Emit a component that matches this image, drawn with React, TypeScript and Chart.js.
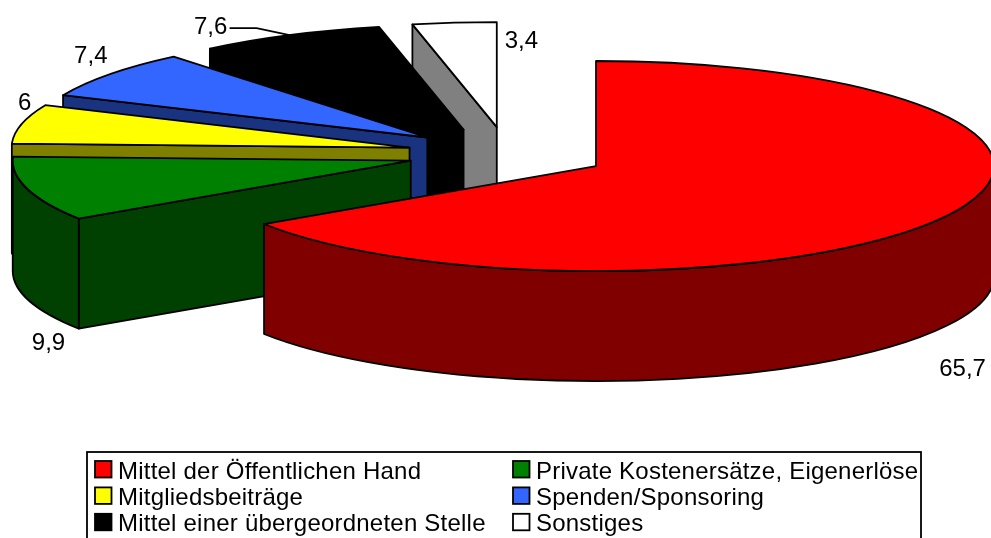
import React, { useEffect, useRef } from "react";
import { Chart, registerables } from "chart.js";

Chart.register(...registerables);

const categories = [
  "Mittel der Öffentlichen Hand",
  "Private Kostenersätze, Eigenerlöse",
  "Mitgliedsbeiträge",
  "Spenden/Sponsoring",
  "Mittel einer übergeordneten Stelle",
  "Sonstiges",
];
const shares = [65.7, 9.9, 6, 7.4, 7.6, 3.4];
const sliceColors = ["#FF0000", "#008000", "#FFFF00", "#3366FF", "#000000", "#FFFFFF"];
const wallColors = ["#800000", "#004000", "#808000", "#1A3380", "#000000", "#808080"];

const RADIUS = 398;
const SQUASH = 0.264;
const DEPTH = 110;
const EXPLODE = 100.5;
const LINE = 1.8;
const FONT = '24px "Liberation Sans", Arial, sans-serif';
const labelOffsets = [
  [16, 154],
  [21, 154],
  [3, -21],
  [-19, -18],
  [-79, -8],
  [67, 19],
];
const leaderIndex = 4;

const pie3d = {
  id: "pie3d",
  beforeDatasetsDraw(chart: any) {
    const ctx: CanvasRenderingContext2D = chart.ctx;
    const arcs = chart.getDatasetMeta(0).data;
    ctx.save();
    ctx.lineJoin = "round";
    ctx.lineWidth = LINE;
    ctx.strokeStyle = "#000";
    const paint = (fill: string) => {
      ctx.fillStyle = fill;
      ctx.fill();
      ctx.stroke();
    };
    for (let i = arcs.length - 1; i >= 0; i--) {
      const { x, y, startAngle: a, endAngle: b, outerRadius: r } = arcs[i];
      const mid = (a + b) / 2;
      const cx = x + EXPLODE * Math.cos(mid);
      const cy = y + EXPLODE * SQUASH * Math.sin(mid);
      const rx = r;
      const ry = r * SQUASH;
      const wall = wallColors[i];
      const radial = (ang: number) => {
        ctx.beginPath();
        ctx.moveTo(cx, cy);
        ctx.lineTo(cx + rx * Math.cos(ang), cy + ry * Math.sin(ang));
        ctx.lineTo(cx + rx * Math.cos(ang), cy + ry * Math.sin(ang) + DEPTH);
        ctx.lineTo(cx, cy + DEPTH);
        ctx.closePath();
        paint(wall);
      };
      if (Math.sin(a - Math.PI / 2) > 1e-6) radial(a);
      if (Math.sin(b + Math.PI / 2) > 1e-6) radial(b);
      const f0 = Math.max(a, 0);
      const f1 = Math.min(b, Math.PI);
      if (f1 > f0) {
        ctx.beginPath();
        ctx.ellipse(cx, cy, rx, ry, 0, f0, f1);
        ctx.ellipse(cx, cy + DEPTH, rx, ry, 0, f1, f0, true);
        ctx.closePath();
        paint(wall);
      }
      ctx.beginPath();
      ctx.moveTo(cx, cy);
      ctx.ellipse(cx, cy, rx, ry, 0, a, b);
      ctx.closePath();
      paint(sliceColors[i]);
    }
    ctx.restore();
    return false;
  },
  afterDraw(chart: any) {
    const ctx: CanvasRenderingContext2D = chart.ctx;
    const arcs = chart.getDatasetMeta(0).data;
    ctx.save();
    ctx.font = FONT;
    ctx.fillStyle = "#000";
    ctx.textAlign = "center";
    ctx.textBaseline = "middle";
    ctx.strokeStyle = "#000";
    ctx.lineWidth = 1.6;
    shares.forEach((v, i) => {
      const { x, y, startAngle: a, endAngle: b, outerRadius: r } = arcs[i];
      const mid = (a + b) / 2;
      const mx = x + (EXPLODE + r) * Math.cos(mid);
      const my = y + (EXPLODE + r) * SQUASH * Math.sin(mid);
      const lx = mx + labelOffsets[i][0];
      const ly = my + labelOffsets[i][1];
      ctx.fillText(String(v).replace(".", ","), lx, ly);
      if (i === leaderIndex) {
        ctx.beginPath();
        ctx.moveTo(lx + 19, ly + 1);
        ctx.lineTo(mx - 33, ly + 1);
        ctx.lineTo(mx, my);
        ctx.stroke();
      }
    });

    // legend box: two columns, three rows, running off the bottom of the page
    ctx.lineWidth = 1.8;
    ctx.strokeRect(87, 452, 834, 96);
    ctx.textAlign = "left";
    ctx.textBaseline = "alphabetic";
    (ctx as any).letterSpacing = "0.22px";
    categories.forEach((label, i) => {
      const col = i % 2;
      const row = Math.floor(i / 2);
      const sx = col === 0 ? 95 : 513;
      const sy = 461 + row * 26.4;
      ctx.fillStyle = sliceColors[i];
      ctx.fillRect(sx, sy, 16.5, 16.5);
      ctx.strokeRect(sx, sy, 16.5, 16.5);
      ctx.fillStyle = "#000";
      ctx.fillText(label, sx + 23, sy + 17.5);
    });
    ctx.restore();
  },
};

export default function App() {
  const ref = useRef<HTMLCanvasElement>(null);
  useEffect(() => {
    const chart = new Chart(ref.current!, {
      type: "pie",
      data: {
        labels: categories,
        datasets: [{ data: shares, backgroundColor: sliceColors, borderColor: "#000", borderWidth: 1 }],
      },
      options: {
        animation: false,
        responsive: false,
        events: [],
        radius: RADIUS,
        layout: { padding: { left: 24, top: 0, right: 0, bottom: 231 } },
        plugins: { legend: { display: false }, tooltip: { enabled: false } },
      } as any,
      plugins: [pie3d],
    });
    return () => chart.destroy();
  }, []);
  return (
    <canvas
      ref={ref}
      width={991}
      height={538}
      style={{ position: "fixed", left: 0, top: 0, width: 991, height: 538, display: "block" }}
    />
  );
}
